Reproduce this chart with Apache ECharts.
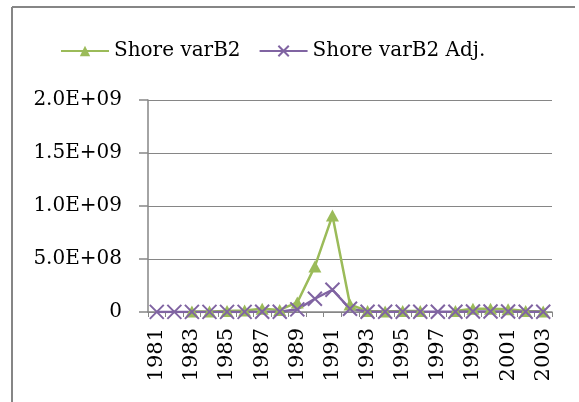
<!DOCTYPE html>
<html>
<head>
<meta charset="utf-8">
<script src="https://cdn.jsdelivr.net/npm/echarts@6/dist/echarts.min.js"></script>
<style>
  html, body { margin: 0; padding: 0; background: #fff; overflow: hidden; }
  #chart { width: 579px; height: 402px; }
</style>
</head>
<body>
<div id="chart"></div>
<script>
// categories and values
const years = ['1981', '1982', '1983', '1984', '1985', '1986', '1987', '1988', '1989', '1990', '1991', '1992',
  '1993', '1994', '1995', '1996', '1997', '1998', '1999', '2000', '2001', '2002', '2003']
const shoreVarB2 = [null, null, 5e6, 5e6, 1e7, 1.5e7, 3e7, 2e7, 9e7, 4.3e8, 9.1e8, 7e7,
  1e7, 5e6, 1e7, 1e7, null, 1e7, 3e7, 3e7, 2.5e7, 1e7, 5e6]
const shoreVarB2Adj = [1e6, 1e6, 1e6, 1e6, 1e6, 1e6, 2e6, 2e6, 2.5e7, 1.25e8, 2.1e8, 3e7,
  3e6, 2e6, 2e6, 2e6, 2e6, 3e6, 5e6, 5e6, 4e6, 3e6, 2e6]

const font = 'DejaVu Serif'
const gray = '#868686'
const crossPath = 'path://M0,0L10,10M10,0L0,10'

function sci(v) {
  if (v === 0) return '0'
  const e = Math.floor(Math.log10(v))
  const m = (v / Math.pow(10, e)).toFixed(1)
  return m + 'E+' + (e < 10 ? '0' + e : e)
}

const chart = echarts.init(document.getElementById('chart'))
chart.setOption({
  animation: false,
  textStyle: { fontFamily: font, color: '#000' },
  // outer chart frame: only the top and left edges are in view
  graphic: [
    {
      type: 'line',
      shape: { x1: 12, y1: 7, x2: 12, y2: 402 },
      style: { stroke: gray, lineWidth: 2 },
      silent: true
    },
    {
      type: 'line',
      shape: { x1: 12, y1: 7, x2: 575, y2: 7 },
      style: { stroke: gray, lineWidth: 2 },
      silent: true
    }
  ],
  legend: {
    top: 36,
    left: 55,
    itemWidth: 48,
    itemHeight: 13,
    itemGap: 18,
    textStyle: { fontFamily: font, fontSize: 20, color: '#000' },
    data: ['Shore varB2', 'Shore varB2 Adj.']
  },
  grid: {
    left: 148,
    right: 27,
    top: 100,
    bottom: 90
  },
  xAxis: {
    type: 'category',
    data: years,
    boundaryGap: true,
    axisLine: { lineStyle: { color: gray, width: 1.5 } },
    axisTick: { show: true, interval: 0, length: 5, lineStyle: { color: gray } },
    axisLabel: {
      interval: 1,
      rotate: 90,
      margin: 16,
      fontFamily: font,
      fontSize: 21,
      color: '#000'
    }
  },
  yAxis: {
    type: 'value',
    min: 0,
    max: 2e9,
    interval: 5e8,
    axisLine: { show: true, lineStyle: { color: gray, width: 1.5 } },
    axisTick: { show: true, inside: false, length: 9, lineStyle: { color: gray, width: 1.5 } },
    splitLine: { lineStyle: { color: gray, width: 1 } },
    axisLabel: {
      margin: 26,
      fontFamily: font,
      fontSize: 20,
      color: '#000',
      formatter: sci
    }
  },
  series: [
    {
      name: 'Shore varB2',
      type: 'line',
      data: shoreVarB2,
      showAllSymbol: true,
      symbol: 'triangle',
      symbolSize: [13, 12],
      lineStyle: { color: '#9BBB59', width: 2.5 },
      itemStyle: { color: '#9BBB59' }
    },
    {
      name: 'Shore varB2 Adj.',
      type: 'line',
      data: shoreVarB2Adj,
      showAllSymbol: true,
      symbol: crossPath,
      symbolSize: 14,
      lineStyle: { color: '#8064A2', width: 2.5 },
      itemStyle: { color: '#8064A2', borderColor: '#8064A2', borderWidth: 2 }
    }
  ]
})
</script>
</body>
</html>
